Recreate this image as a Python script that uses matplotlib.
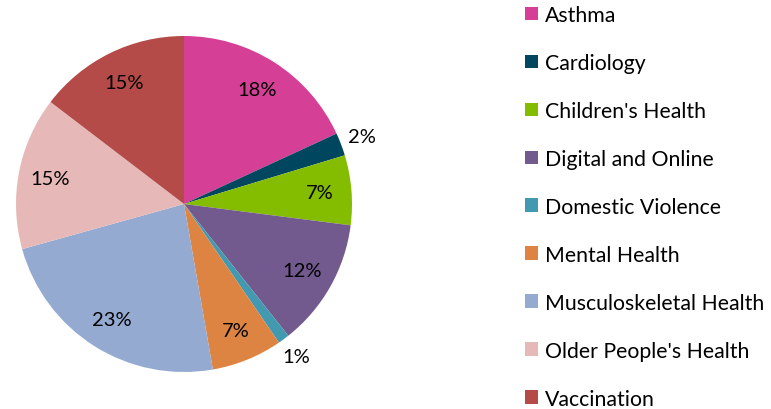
import matplotlib.pyplot as plt
from matplotlib.patches import Patch
import numpy as np

plt.rcParams['font.family'] = ['Lato', 'DejaVu Sans']

# 数据
categories = ['Asthma', 'Cardiology', "Children's Health", 'Digital and Online',
              'Domestic Violence', 'Mental Health', 'Musculoskeletal Health',
              "Older People's Health", 'Vaccination']
shares = [18.1, 2.2, 6.7, 12.3, 1.1, 6.8, 23.4, 14.7, 14.6]
colors = ['#D63F96', '#00465F', '#84BD00', '#72598E', '#4399AF',
          '#DD8442', '#94AAD0', '#E6B9B8', '#B44B48']

fig = plt.figure(figsize=(7.71, 4.10), dpi=100)
W, H = 771, 410
cx, cy, r = 184, 205, 168
ax = fig.add_axes([(cx - r) / W, (H - cy - r) / H, 2 * r / W, 2 * r / H])

wedges, _ = ax.pie(shares, colors=colors, startangle=90, counterclock=False,
                   radius=1, wedgeprops=dict(linewidth=0))
ax.set_xlim(-1, 1)
ax.set_ylim(-1, 1)
ax.set_aspect('equal')
ax.axis('off')

# 百分比标签：小扇区放外面
total = sum(shares)
cum = 0
for v in shares:
    mid = (cum + v / 2) / total * 360
    cum += v
    ang = np.deg2rad(90 - mid)
    d = 1.13 if v < 3 else 0.81
    ax.text(d * np.cos(ang), d * np.sin(ang), f'{round(v / total * 100):.0f}%',
            ha='center', va='center', fontsize=14.5, color='#000000')

handles = [Patch(facecolor=c, edgecolor='none') for c in colors]
fig.legend(handles, categories, loc='upper left',
           bbox_to_anchor=(525 / W, 1 - 6 / H), frameon=False, fontsize=15.3,
           handlelength=0.62, handleheight=0.62, handletextpad=0.33,
           labelspacing=1.316, borderpad=0, borderaxespad=0)

plt.savefig('out.png', dpi=100)
